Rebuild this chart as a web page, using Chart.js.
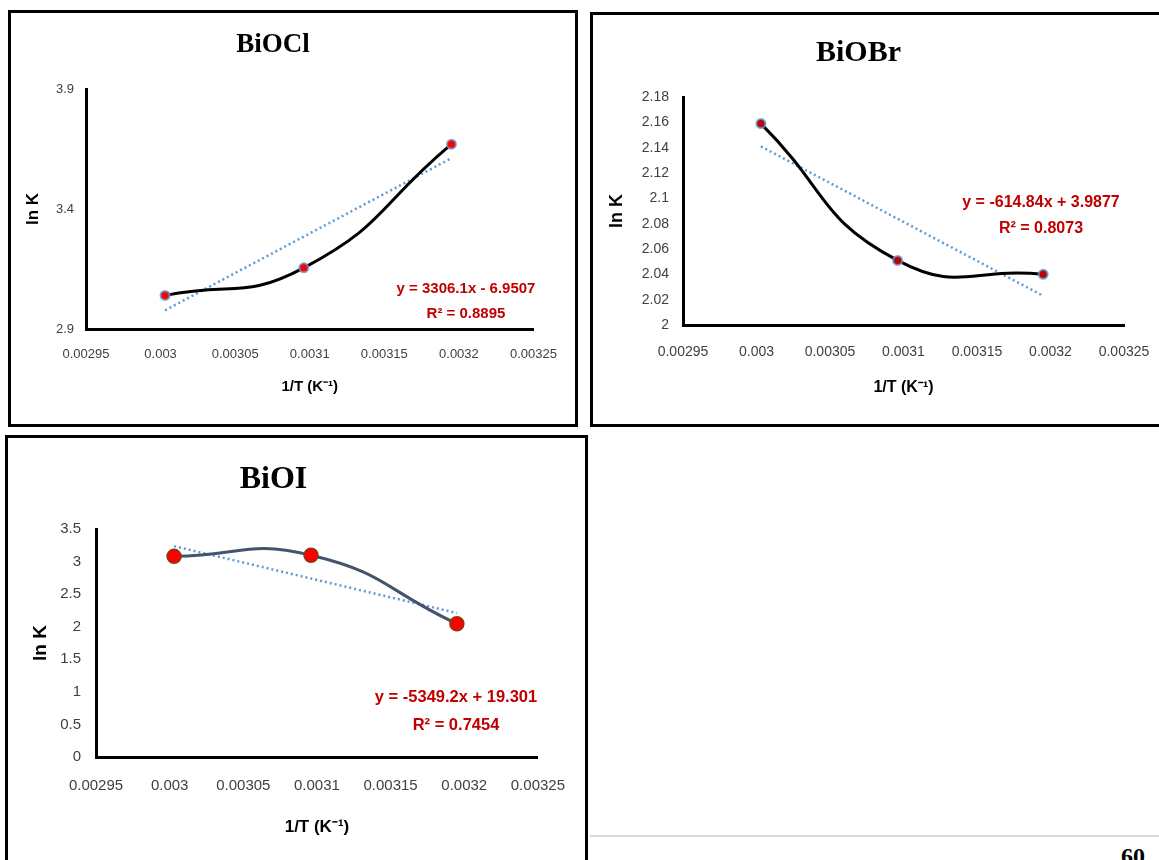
<!DOCTYPE html>
<html>
<head>
<meta charset="utf-8">
<script src="https://cdn.jsdelivr.net/npm/chart.js@4.4.1/dist/chart.umd.min.js"></script>
<style>
  html, body { margin: 0; padding: 0; background: #fff; width: 1159px; height: 860px; overflow: hidden; position: relative; }
  .panel { position: absolute; border: 3px solid #000; box-sizing: border-box; }
  canvas { position: absolute; left: 0; top: 0; }
  .rule { position: absolute; left: 590px; top: 835px; width: 569px; height: 2px; background: #d9d9d9; }
  .pageno { position: absolute; left: 1121px; top: 844px; font: bold 24px 'Liberation Serif', 'Times New Roman', serif; line-height: 24px; }
</style>
</head>
<body>
<div class="panel" style="left:8px;top:10px;width:570px;height:417px;"><canvas id="chartBiOCl" width="564" height="411"></canvas></div>
<div class="panel" style="left:590px;top:12px;width:615px;height:415px;"><canvas id="chartBiOBr" width="609" height="409"></canvas></div>
<div class="panel" style="left:5px;top:435px;width:583px;height:436px;"><canvas id="chartBiOI" width="577" height="430"></canvas></div>
<div class="rule"></div>
<div class="pageno">60</div>

<script>
// 1/T values (K^-1) for the three temperatures
const invT = [0.003003, 0.003096, 0.003195];

// ln K
const lnK_BiOCl = [3.04, 3.155, 3.67];
const lnK_BiOBr = [2.159, 2.051, 2.040];
const lnK_BiOI = [3.08, 3.097, 2.044];

// linear trendline end points
const trendX = [0.003003, 0.003195];
const trend_BiOCl = [2.978, 3.612];
const trend_BiOBr = [2.141, 2.023];
const trend_BiOI = [3.237, 2.210];

// tick labels
const xTickValues = [0.00295, 0.003, 0.00305, 0.0031, 0.00315, 0.0032, 0.00325];
const yTicks_BiOCl = [2.9, 3.4, 3.9];
const yTicks_BiOBr = [2, 2.02, 2.04, 2.06, 2.08, 2.1, 2.12, 2.14, 2.16, 2.18];
const yTicks_BiOI = [0, 0.5, 1, 1.5, 2, 2.5, 3, 3.5];

const eq_BiOCl = ['y = 3306.1x - 6.9507', 'R² = 0.8895'];
const eq_BiOBr = ['y = -614.84x + 3.9877', 'R² = 0.8073'];
const eq_BiOI = ['y = -5349.2x + 19.301', 'R² = 0.7454'];

const SANS = "'Liberation Sans', Arial, sans-serif";
const SERIF = "'Liberation Serif', 'Times New Roman', serif";

// draws the trendline equation text inside the plot area
const equationPlugin = {
    id: 'equation',
    afterDatasetsDraw(chart, args, opts) {
        const a = chart.chartArea;
        const ctx = chart.ctx;
        ctx.save();
        ctx.font = 'bold ' + opts.size + 'px ' + SANS;
        ctx.fillStyle = '#C00000';
        ctx.textAlign = 'center';
        ctx.textBaseline = 'middle';
        opts.lines.forEach((t, i) => ctx.fillText(t, a.left + opts.dx, a.top + opts.dy + i * opts.gap));
        ctx.restore();
    }
};

function makeChart(id, p) {
    new Chart(document.getElementById(id), {
        type: 'line',
        data: {
            datasets: [{
                data: invT.map((x, i) => ({ x: x, y: p.values[i] })),
                borderColor: p.lineColor,
                borderWidth: p.lineWidth,
                tension: 0.5,
                pointRadius: p.pointRadius,
                pointBackgroundColor: p.pointFill,
                pointBorderColor: p.pointBorder,
                pointBorderWidth: p.pointBorderWidth,
                order: 0
            }, {
                data: trendX.map((x, i) => ({ x: x, y: p.trend[i] })),
                borderColor: '#5B9BD5',
                borderWidth: 2.5,
                borderDash: [2, 3],
                pointRadius: 0,
                tension: 0,
                order: 1
            }]
        },
        options: {
            responsive: false,
            animation: false,
            layout: { padding: p.padding },
            plugins: {
                legend: { display: false },
                tooltip: { enabled: false },
                title: {
                    display: true,
                    text: p.title,
                    color: '#000',
                    font: { family: SERIF, size: p.titleSize, weight: 'bold' },
                    padding: p.titlePad
                },
                equation: p.equation
            },
            scales: {
                x: {
                    type: 'linear',
                    min: 0.00295,
                    max: 0.00325,
                    afterBuildTicks: s => { s.ticks = xTickValues.map(v => ({ value: v })); },
                    afterFit: s => { s.height = p.xHeight; },
                    ticks: {
                        callback: v => String(v),
                        color: '#404040',
                        font: { family: SANS, size: p.tickSize },
                        padding: p.xTickPad,
                        maxRotation: 0,
                        autoSkip: false
                    },
                    grid: { display: false, drawTicks: false },
                    border: { color: '#000', width: 3 },
                    title: {
                        display: true,
                        text: '1/T (K⁻¹)',
                        color: '#000',
                        font: { family: SANS, size: p.xTitleSize, weight: 'bold' },
                        padding: 0
                    }
                },
                y: {
                    type: 'linear',
                    min: p.yTicks[0],
                    max: p.yTicks[p.yTicks.length - 1],
                    afterBuildTicks: s => { s.ticks = p.yTicks.map(v => ({ value: v })); },
                    afterFit: s => { s.width = p.yWidth; },
                    ticks: {
                        callback: v => String(v),
                        color: '#404040',
                        font: { family: SANS, size: p.tickSize },
                        padding: p.yTickPad,
                        autoSkip: false
                    },
                    grid: { display: false, drawTicks: false },
                    border: { color: '#000', width: 3 },
                    title: {
                        display: true,
                        text: 'ln K',
                        color: '#000',
                        font: { family: SANS, size: p.yTitleSize, weight: 'bold' },
                        padding: { top: p.yTitlePad, bottom: 0 }
                    }
                }
            }
        },
        plugins: [equationPlugin]
    });
}

makeChart('chartBiOCl', {
    title: 'BiOCl', titleSize: 27, titlePad: { top: 15.8, bottom: 27.8 },
    values: lnK_BiOCl, trend: trend_BiOCl, yTicks: yTicks_BiOCl,
    lineColor: '#000', lineWidth: 3,
    pointRadius: 4.5, pointFill: '#FF0000', pointBorder: 'rgba(91,155,213,0.8)', pointBorderWidth: 2,
    padding: { left: 0, right: 40, top: 0, bottom: 28 },
    yWidth: 75, yTickPad: 12, yTitleSize: 17, yTitlePad: 11.8,
    xHeight: 67, xTickPad: 18, xTitleSize: 15, tickSize: 13,
    equation: { lines: eq_BiOCl, dx: 380, dy: 200, gap: 25, size: 15 }
});

makeChart('chartBiOBr', {
    title: 'BiOBr', titleSize: 30, titlePad: { top: 20, bottom: 26 },
    values: lnK_BiOBr, trend: trend_BiOBr, yTicks: yTicks_BiOBr,
    lineColor: '#000', lineWidth: 3,
    pointRadius: 4.5, pointFill: '#C00000', pointBorder: 'rgba(91,155,213,0.8)', pointBorderWidth: 2,
    padding: { left: 0, right: 78, top: 0, bottom: 26.4 },
    yWidth: 90, yTickPad: 14, yTitleSize: 18, yTitlePad: 13.2,
    xHeight: 72.6, xTickPad: 19, xTitleSize: 16, tickSize: 14,
    equation: { lines: eq_BiOBr, dx: 358, dy: 106, gap: 26, size: 16 }
});

makeChart('chartBiOI', {
    title: 'BiOI', titleSize: 32, titlePad: { top: 22.8, bottom: 29.8 },
    values: lnK_BiOI, trend: trend_BiOI, yTicks: yTicks_BiOI,
    lineColor: '#44546A', lineWidth: 3,
    pointRadius: 7, pointFill: '#FF0000', pointBorder: '#843C0C', pointBorderWidth: 1.5,
    padding: { left: 0, right: 46, top: 0, bottom: 30.8 },
    yWidth: 88, yTickPad: 15, yTitleSize: 19, yTitlePad: 21.6,
    xHeight: 80.2, xTickPad: 20, xTitleSize: 17, tickSize: 15,
    equation: { lines: eq_BiOI, dx: 360, dy: 168, gap: 28, size: 16.5 }
});
</script>
</body>
</html>
